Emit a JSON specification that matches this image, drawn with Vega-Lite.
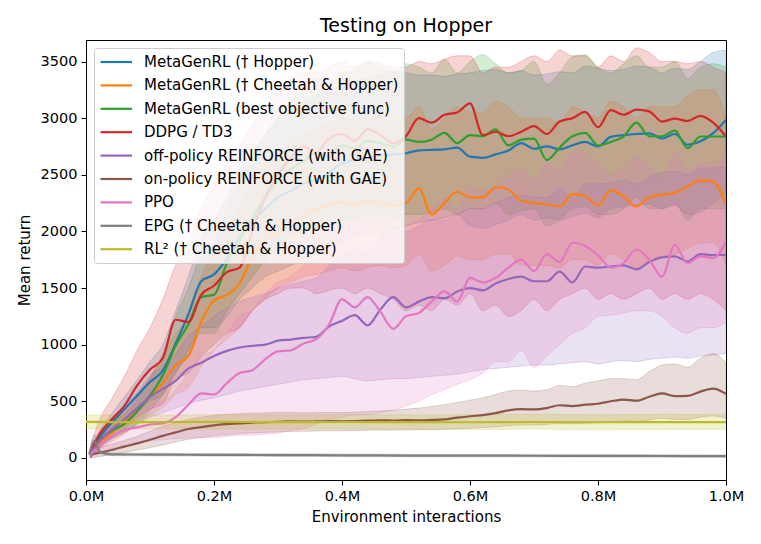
{
  "$schema": "https://vega.github.io/schema/vega-lite/v6.json",
  "width": 640,
  "height": 440,
  "autosize": "none",
  "padding": {"left": 86, "top": 40, "right": 35, "bottom": 64},
  "background": "white",
  "title": {
    "text": "Testing on Hopper",
    "font": "DejaVu Sans",
    "fontSize": 19,
    "fontWeight": "normal",
    "color": "black",
    "anchor": "middle",
    "offset": 4
  },
  "data": {
    "values": [
      {"s":"B","x":0.007,"m":40,"lo":0,"hi":80},
      {"s":"B","x":0.02,"m":170,"lo":110,"hi":230},
      {"s":"B","x":0.04,"m":310,"lo":230,"hi":390},
      {"s":"B","x":0.06,"m":430,"lo":330,"hi":540},
      {"s":"B","x":0.08,"m":550,"lo":420,"hi":690},
      {"s":"B","x":0.10,"m":670,"lo":500,"hi":850},
      {"s":"B","x":0.12,"m":770,"lo":560,"hi":1000},
      {"s":"B","x":0.14,"m":1010,"lo":740,"hi":1300},
      {"s":"B","x":0.16,"m":1270,"lo":950,"hi":1600},
      {"s":"B","x":0.18,"m":1560,"lo":1150,"hi":1950},
      {"s":"B","x":0.20,"m":1620,"lo":1150,"hi":2100},
      {"s":"B","x":0.22,"m":1760,"lo":1250,"hi":2300},
      {"s":"B","x":0.24,"m":1950,"lo":1400,"hi":2550},
      {"s":"B","x":0.26,"m":2100,"lo":1500,"hi":2700},
      {"s":"B","x":0.28,"m":2200,"lo":1600,"hi":2850},
      {"s":"B","x":0.30,"m":2300,"lo":1650,"hi":3000},
      {"s":"B","x":0.32,"m":2360,"lo":1700,"hi":3100},
      {"s":"B","x":0.34,"m":2420,"lo":1750,"hi":3150},
      {"s":"B","x":0.36,"m":2460,"lo":1800,"hi":3200},
      {"s":"B","x":0.38,"m":2520,"lo":1850,"hi":3250},
      {"s":"B","x":0.40,"m":2600,"lo":1900,"hi":3300},
      {"s":"B","x":0.42,"m":2630,"lo":1950,"hi":3330},
      {"s":"B","x":0.44,"m":2650,"lo":1980,"hi":3350},
      {"s":"B","x":0.46,"m":2670,"lo":2000,"hi":3380},
      {"s":"B","x":0.48,"m":2680,"lo":2020,"hi":3420},
      {"s":"B","x":0.50,"m":2690,"lo":2050,"hi":3400},
      {"s":"B","x":0.52,"m":2715,"lo":2080,"hi":3380},
      {"s":"B","x":0.54,"m":2720,"lo":2100,"hi":3380},
      {"s":"B","x":0.56,"m":2725,"lo":2120,"hi":3370},
      {"s":"B","x":0.58,"m":2740,"lo":2150,"hi":3390},
      {"s":"B","x":0.60,"m":2660,"lo":2050,"hi":3400},
      {"s":"B","x":0.62,"m":2650,"lo":2030,"hi":3420},
      {"s":"B","x":0.64,"m":2680,"lo":2060,"hi":3430},
      {"s":"B","x":0.66,"m":2715,"lo":2100,"hi":3400},
      {"s":"B","x":0.68,"m":2780,"lo":2150,"hi":3420},
      {"s":"B","x":0.70,"m":2730,"lo":2100,"hi":3380},
      {"s":"B","x":0.72,"m":2750,"lo":2120,"hi":3390},
      {"s":"B","x":0.74,"m":2725,"lo":2100,"hi":3410},
      {"s":"B","x":0.76,"m":2760,"lo":2130,"hi":3400},
      {"s":"B","x":0.78,"m":2790,"lo":2160,"hi":3460},
      {"s":"B","x":0.80,"m":2750,"lo":2120,"hi":3440},
      {"s":"B","x":0.82,"m":2835,"lo":2200,"hi":3420},
      {"s":"B","x":0.84,"m":2850,"lo":2220,"hi":3430},
      {"s":"B","x":0.86,"m":2860,"lo":2230,"hi":3460},
      {"s":"B","x":0.88,"m":2865,"lo":2240,"hi":3450},
      {"s":"B","x":0.90,"m":2820,"lo":2200,"hi":3400},
      {"s":"B","x":0.92,"m":2860,"lo":2230,"hi":3440},
      {"s":"B","x":0.94,"m":2765,"lo":2150,"hi":3430},
      {"s":"B","x":0.96,"m":2795,"lo":2170,"hi":3500},
      {"s":"B","x":0.98,"m":2868,"lo":2250,"hi":3580},
      {"s":"B","x":1.00,"m":2985,"lo":2350,"hi":3600},

      {"s":"O","x":0.007,"m":40,"lo":0,"hi":90},
      {"s":"O","x":0.02,"m":125,"lo":70,"hi":190},
      {"s":"O","x":0.04,"m":220,"lo":140,"hi":300},
      {"s":"O","x":0.06,"m":310,"lo":210,"hi":420},
      {"s":"O","x":0.08,"m":420,"lo":300,"hi":560},
      {"s":"O","x":0.10,"m":540,"lo":380,"hi":720},
      {"s":"O","x":0.12,"m":660,"lo":450,"hi":900},
      {"s":"O","x":0.14,"m":820,"lo":560,"hi":1100},
      {"s":"O","x":0.16,"m":900,"lo":620,"hi":1250},
      {"s":"O","x":0.18,"m":1200,"lo":800,"hi":1600},
      {"s":"O","x":0.20,"m":1390,"lo":950,"hi":1850},
      {"s":"O","x":0.22,"m":1440,"lo":1050,"hi":2000},
      {"s":"O","x":0.24,"m":1540,"lo":1150,"hi":2200},
      {"s":"O","x":0.26,"m":1780,"lo":1300,"hi":2450},
      {"s":"O","x":0.28,"m":1920,"lo":1400,"hi":2600},
      {"s":"O","x":0.30,"m":2000,"lo":1500,"hi":2700},
      {"s":"O","x":0.32,"m":2080,"lo":1550,"hi":2800},
      {"s":"O","x":0.34,"m":2140,"lo":1600,"hi":2850},
      {"s":"O","x":0.36,"m":2200,"lo":1620,"hi":2900},
      {"s":"O","x":0.38,"m":2230,"lo":1650,"hi":2950},
      {"s":"O","x":0.40,"m":2260,"lo":1680,"hi":3000},
      {"s":"O","x":0.42,"m":2230,"lo":1650,"hi":2980},
      {"s":"O","x":0.44,"m":2270,"lo":1680,"hi":3050},
      {"s":"O","x":0.46,"m":2250,"lo":1700,"hi":3000},
      {"s":"O","x":0.48,"m":2230,"lo":1680,"hi":2980},
      {"s":"O","x":0.50,"m":2250,"lo":1700,"hi":3000},
      {"s":"O","x":0.52,"m":2380,"lo":1800,"hi":3100},
      {"s":"O","x":0.54,"m":2150,"lo":1650,"hi":2900},
      {"s":"O","x":0.56,"m":2250,"lo":1700,"hi":3000},
      {"s":"O","x":0.58,"m":2350,"lo":1780,"hi":3100},
      {"s":"O","x":0.60,"m":2300,"lo":1750,"hi":3050},
      {"s":"O","x":0.62,"m":2300,"lo":1750,"hi":3050},
      {"s":"O","x":0.64,"m":2390,"lo":1800,"hi":3150},
      {"s":"O","x":0.66,"m":2370,"lo":1800,"hi":3100},
      {"s":"O","x":0.68,"m":2270,"lo":1700,"hi":3000},
      {"s":"O","x":0.70,"m":2250,"lo":1700,"hi":3000},
      {"s":"O","x":0.72,"m":2240,"lo":1700,"hi":3000},
      {"s":"O","x":0.74,"m":2220,"lo":1680,"hi":2950},
      {"s":"O","x":0.76,"m":2330,"lo":1750,"hi":3100},
      {"s":"O","x":0.78,"m":2310,"lo":1750,"hi":3050},
      {"s":"O","x":0.80,"m":2230,"lo":1700,"hi":3000},
      {"s":"O","x":0.82,"m":2365,"lo":1800,"hi":3150},
      {"s":"O","x":0.84,"m":2310,"lo":1750,"hi":3100},
      {"s":"O","x":0.86,"m":2220,"lo":1680,"hi":3000},
      {"s":"O","x":0.88,"m":2300,"lo":1750,"hi":3100},
      {"s":"O","x":0.90,"m":2325,"lo":1780,"hi":3100},
      {"s":"O","x":0.92,"m":2340,"lo":1800,"hi":3100},
      {"s":"O","x":0.94,"m":2400,"lo":1850,"hi":3200},
      {"s":"O","x":0.96,"m":2450,"lo":1900,"hi":3250},
      {"s":"O","x":0.98,"m":2440,"lo":1900,"hi":3250},
      {"s":"O","x":1.00,"m":2235,"lo":1700,"hi":3000},

      {"s":"G","x":0.007,"m":40,"lo":0,"hi":90},
      {"s":"G","x":0.02,"m":150,"lo":100,"hi":200},
      {"s":"G","x":0.04,"m":240,"lo":170,"hi":320},
      {"s":"G","x":0.06,"m":300,"lo":220,"hi":390},
      {"s":"G","x":0.08,"m":410,"lo":300,"hi":520},
      {"s":"G","x":0.10,"m":550,"lo":420,"hi":700},
      {"s":"G","x":0.12,"m":730,"lo":560,"hi":920},
      {"s":"G","x":0.14,"m":990,"lo":760,"hi":1250},
      {"s":"G","x":0.16,"m":1180,"lo":900,"hi":1500},
      {"s":"G","x":0.18,"m":1420,"lo":1100,"hi":1800},
      {"s":"G","x":0.20,"m":1440,"lo":1100,"hi":1900},
      {"s":"G","x":0.22,"m":1720,"lo":1300,"hi":2200},
      {"s":"G","x":0.24,"m":1920,"lo":1450,"hi":2450},
      {"s":"G","x":0.26,"m":2120,"lo":1600,"hi":2650},
      {"s":"G","x":0.28,"m":2300,"lo":1750,"hi":2850},
      {"s":"G","x":0.30,"m":2450,"lo":1850,"hi":3000},
      {"s":"G","x":0.32,"m":2550,"lo":1950,"hi":3150},
      {"s":"G","x":0.34,"m":2620,"lo":2000,"hi":3250},
      {"s":"G","x":0.36,"m":2700,"lo":2050,"hi":3350},
      {"s":"G","x":0.38,"m":2660,"lo":2050,"hi":3300},
      {"s":"G","x":0.40,"m":2760,"lo":2100,"hi":3400},
      {"s":"G","x":0.42,"m":2730,"lo":2100,"hi":3420},
      {"s":"G","x":0.44,"m":2800,"lo":2150,"hi":3500},
      {"s":"G","x":0.46,"m":2780,"lo":2150,"hi":3450},
      {"s":"G","x":0.48,"m":2750,"lo":2120,"hi":3400},
      {"s":"G","x":0.50,"m":2810,"lo":2150,"hi":3480},
      {"s":"G","x":0.52,"m":2790,"lo":2150,"hi":3450},
      {"s":"G","x":0.54,"m":2810,"lo":2170,"hi":3400},
      {"s":"G","x":0.56,"m":2870,"lo":2200,"hi":3520},
      {"s":"G","x":0.58,"m":2780,"lo":2150,"hi":3400},
      {"s":"G","x":0.60,"m":2850,"lo":2200,"hi":3500},
      {"s":"G","x":0.62,"m":2840,"lo":2200,"hi":3560},
      {"s":"G","x":0.64,"m":2900,"lo":2250,"hi":3480},
      {"s":"G","x":0.66,"m":2760,"lo":2150,"hi":3400},
      {"s":"G","x":0.68,"m":2810,"lo":2180,"hi":3420},
      {"s":"G","x":0.70,"m":2820,"lo":2200,"hi":3500},
      {"s":"G","x":0.72,"m":2630,"lo":2050,"hi":3300},
      {"s":"G","x":0.74,"m":2740,"lo":2100,"hi":3400},
      {"s":"G","x":0.76,"m":2840,"lo":2200,"hi":3540},
      {"s":"G","x":0.78,"m":2870,"lo":2220,"hi":3560},
      {"s":"G","x":0.80,"m":2760,"lo":2150,"hi":3450},
      {"s":"G","x":0.82,"m":2790,"lo":2150,"hi":3400},
      {"s":"G","x":0.84,"m":2840,"lo":2200,"hi":3480},
      {"s":"G","x":0.86,"m":2960,"lo":2300,"hi":3550},
      {"s":"G","x":0.88,"m":2840,"lo":2200,"hi":3450},
      {"s":"G","x":0.90,"m":2840,"lo":2200,"hi":3450},
      {"s":"G","x":0.92,"m":2890,"lo":2250,"hi":3500},
      {"s":"G","x":0.94,"m":2735,"lo":2100,"hi":3350},
      {"s":"G","x":0.96,"m":2838,"lo":2200,"hi":3450},
      {"s":"G","x":0.98,"m":2838,"lo":2200,"hi":3480},
      {"s":"G","x":1.00,"m":2838,"lo":2200,"hi":3450},

      {"s":"R","x":0.007,"m":40,"lo":0,"hi":90},
      {"s":"R","x":0.02,"m":200,"lo":80,"hi":320},
      {"s":"R","x":0.04,"m":340,"lo":180,"hi":520},
      {"s":"R","x":0.06,"m":460,"lo":260,"hi":720},
      {"s":"R","x":0.08,"m":640,"lo":360,"hi":950},
      {"s":"R","x":0.10,"m":780,"lo":430,"hi":1150},
      {"s":"R","x":0.12,"m":880,"lo":480,"hi":1400},
      {"s":"R","x":0.14,"m":1220,"lo":700,"hi":1700},
      {"s":"R","x":0.16,"m":1200,"lo":750,"hi":1900},
      {"s":"R","x":0.18,"m":1440,"lo":900,"hi":2200},
      {"s":"R","x":0.20,"m":1520,"lo":1000,"hi":2400},
      {"s":"R","x":0.22,"m":1640,"lo":1100,"hi":2600},
      {"s":"R","x":0.24,"m":1680,"lo":1150,"hi":2750},
      {"s":"R","x":0.26,"m":2000,"lo":1300,"hi":2950},
      {"s":"R","x":0.28,"m":2300,"lo":1400,"hi":3100},
      {"s":"R","x":0.30,"m":2500,"lo":1450,"hi":3250},
      {"s":"R","x":0.32,"m":2650,"lo":1500,"hi":3350},
      {"s":"R","x":0.34,"m":2750,"lo":1500,"hi":3400},
      {"s":"R","x":0.36,"m":2700,"lo":1450,"hi":3400},
      {"s":"R","x":0.38,"m":2820,"lo":1480,"hi":3450},
      {"s":"R","x":0.40,"m":2860,"lo":1500,"hi":3500},
      {"s":"R","x":0.42,"m":2800,"lo":1450,"hi":3450},
      {"s":"R","x":0.44,"m":2900,"lo":1500,"hi":3500},
      {"s":"R","x":0.46,"m":2850,"lo":1450,"hi":3480},
      {"s":"R","x":0.48,"m":2780,"lo":1400,"hi":3450},
      {"s":"R","x":0.50,"m":2840,"lo":1300,"hi":3450},
      {"s":"R","x":0.52,"m":3000,"lo":1350,"hi":3500},
      {"s":"R","x":0.54,"m":2960,"lo":1300,"hi":3480},
      {"s":"R","x":0.56,"m":3030,"lo":1400,"hi":3520},
      {"s":"R","x":0.58,"m":3050,"lo":1350,"hi":3550},
      {"s":"R","x":0.60,"m":3130,"lo":1450,"hi":3550},
      {"s":"R","x":0.62,"m":2850,"lo":1300,"hi":3400},
      {"s":"R","x":0.64,"m":2880,"lo":1350,"hi":3450},
      {"s":"R","x":0.66,"m":2840,"lo":1250,"hi":3450},
      {"s":"R","x":0.68,"m":2880,"lo":1300,"hi":3500},
      {"s":"R","x":0.70,"m":2930,"lo":1400,"hi":3550},
      {"s":"R","x":0.72,"m":2860,"lo":1300,"hi":3500},
      {"s":"R","x":0.74,"m":2970,"lo":1400,"hi":3600},
      {"s":"R","x":0.76,"m":3000,"lo":1450,"hi":3550},
      {"s":"R","x":0.78,"m":3055,"lo":1500,"hi":3550},
      {"s":"R","x":0.80,"m":2920,"lo":1400,"hi":3450},
      {"s":"R","x":0.82,"m":3070,"lo":1450,"hi":3550},
      {"s":"R","x":0.84,"m":3030,"lo":1400,"hi":3500},
      {"s":"R","x":0.86,"m":3075,"lo":1450,"hi":3620},
      {"s":"R","x":0.88,"m":3060,"lo":1500,"hi":3580},
      {"s":"R","x":0.90,"m":2970,"lo":1400,"hi":3500},
      {"s":"R","x":0.92,"m":2995,"lo":1450,"hi":3500},
      {"s":"R","x":0.94,"m":2975,"lo":1400,"hi":3480},
      {"s":"R","x":0.96,"m":3020,"lo":1450,"hi":3500},
      {"s":"R","x":0.98,"m":2960,"lo":1400,"hi":3450},
      {"s":"R","x":1.00,"m":2838,"lo":1300,"hi":3400},

      {"s":"P","x":0.007,"m":40,"lo":0,"hi":80},
      {"s":"P","x":0.02,"m":140,"lo":80,"hi":210},
      {"s":"P","x":0.04,"m":250,"lo":160,"hi":350},
      {"s":"P","x":0.06,"m":340,"lo":230,"hi":460},
      {"s":"P","x":0.08,"m":440,"lo":300,"hi":580},
      {"s":"P","x":0.10,"m":540,"lo":360,"hi":720},
      {"s":"P","x":0.12,"m":610,"lo":400,"hi":820},
      {"s":"P","x":0.14,"m":680,"lo":440,"hi":920},
      {"s":"P","x":0.16,"m":790,"lo":480,"hi":1080},
      {"s":"P","x":0.18,"m":840,"lo":510,"hi":1160},
      {"s":"P","x":0.20,"m":900,"lo":530,"hi":1250},
      {"s":"P","x":0.22,"m":945,"lo":560,"hi":1320},
      {"s":"P","x":0.24,"m":975,"lo":590,"hi":1380},
      {"s":"P","x":0.26,"m":990,"lo":610,"hi":1420},
      {"s":"P","x":0.28,"m":1000,"lo":630,"hi":1450},
      {"s":"P","x":0.30,"m":1035,"lo":650,"hi":1500},
      {"s":"P","x":0.32,"m":1045,"lo":670,"hi":1530},
      {"s":"P","x":0.34,"m":1060,"lo":690,"hi":1560},
      {"s":"P","x":0.36,"m":1070,"lo":700,"hi":1590},
      {"s":"P","x":0.38,"m":1160,"lo":710,"hi":1700},
      {"s":"P","x":0.40,"m":1210,"lo":720,"hi":1780},
      {"s":"P","x":0.42,"m":1260,"lo":700,"hi":1850},
      {"s":"P","x":0.44,"m":1170,"lo":680,"hi":1800},
      {"s":"P","x":0.46,"m":1310,"lo":690,"hi":1950},
      {"s":"P","x":0.48,"m":1420,"lo":700,"hi":2050},
      {"s":"P","x":0.50,"m":1330,"lo":700,"hi":2000},
      {"s":"P","x":0.52,"m":1380,"lo":710,"hi":2050},
      {"s":"P","x":0.54,"m":1420,"lo":720,"hi":2100},
      {"s":"P","x":0.56,"m":1410,"lo":730,"hi":2100},
      {"s":"P","x":0.58,"m":1470,"lo":740,"hi":2150},
      {"s":"P","x":0.60,"m":1500,"lo":760,"hi":2200},
      {"s":"P","x":0.62,"m":1480,"lo":780,"hi":2200},
      {"s":"P","x":0.64,"m":1540,"lo":790,"hi":2250},
      {"s":"P","x":0.66,"m":1580,"lo":800,"hi":2300},
      {"s":"P","x":0.68,"m":1600,"lo":810,"hi":2320},
      {"s":"P","x":0.70,"m":1560,"lo":820,"hi":2300},
      {"s":"P","x":0.72,"m":1560,"lo":820,"hi":2300},
      {"s":"P","x":0.74,"m":1645,"lo":830,"hi":2380},
      {"s":"P","x":0.76,"m":1550,"lo":840,"hi":2300},
      {"s":"P","x":0.78,"m":1690,"lo":850,"hi":2420},
      {"s":"P","x":0.80,"m":1680,"lo":830,"hi":2420},
      {"s":"P","x":0.82,"m":1690,"lo":850,"hi":2430},
      {"s":"P","x":0.84,"m":1700,"lo":860,"hi":2450},
      {"s":"P","x":0.86,"m":1665,"lo":850,"hi":2420},
      {"s":"P","x":0.88,"m":1730,"lo":870,"hi":2480},
      {"s":"P","x":0.90,"m":1770,"lo":880,"hi":2520},
      {"s":"P","x":0.92,"m":1780,"lo":890,"hi":2530},
      {"s":"P","x":0.94,"m":1735,"lo":880,"hi":2500},
      {"s":"P","x":0.96,"m":1800,"lo":900,"hi":2560},
      {"s":"P","x":0.98,"m":1790,"lo":910,"hi":2560},
      {"s":"P","x":1.00,"m":1794,"lo":920,"hi":2570},

      {"s":"N","x":0.007,"m":30,"lo":0,"hi":70},
      {"s":"N","x":0.02,"m":45,"lo":10,"hi":90},
      {"s":"N","x":0.04,"m":70,"lo":30,"hi":120},
      {"s":"N","x":0.06,"m":100,"lo":50,"hi":155},
      {"s":"N","x":0.08,"m":128,"lo":70,"hi":190},
      {"s":"N","x":0.10,"m":160,"lo":90,"hi":235},
      {"s":"N","x":0.12,"m":195,"lo":115,"hi":280},
      {"s":"N","x":0.14,"m":225,"lo":140,"hi":310},
      {"s":"N","x":0.16,"m":255,"lo":165,"hi":340},
      {"s":"N","x":0.18,"m":272,"lo":180,"hi":360},
      {"s":"N","x":0.20,"m":288,"lo":195,"hi":375},
      {"s":"N","x":0.22,"m":298,"lo":205,"hi":385},
      {"s":"N","x":0.24,"m":305,"lo":215,"hi":390},
      {"s":"N","x":0.26,"m":312,"lo":220,"hi":395},
      {"s":"N","x":0.28,"m":316,"lo":225,"hi":398},
      {"s":"N","x":0.30,"m":318,"lo":230,"hi":400},
      {"s":"N","x":0.32,"m":322,"lo":235,"hi":400},
      {"s":"N","x":0.34,"m":320,"lo":235,"hi":398},
      {"s":"N","x":0.36,"m":322,"lo":238,"hi":400},
      {"s":"N","x":0.38,"m":325,"lo":240,"hi":402},
      {"s":"N","x":0.40,"m":323,"lo":240,"hi":400},
      {"s":"N","x":0.42,"m":326,"lo":242,"hi":405},
      {"s":"N","x":0.44,"m":330,"lo":245,"hi":410},
      {"s":"N","x":0.46,"m":332,"lo":245,"hi":415},
      {"s":"N","x":0.48,"m":330,"lo":245,"hi":420},
      {"s":"N","x":0.50,"m":333,"lo":248,"hi":430},
      {"s":"N","x":0.52,"m":332,"lo":248,"hi":440},
      {"s":"N","x":0.54,"m":335,"lo":250,"hi":455},
      {"s":"N","x":0.56,"m":340,"lo":252,"hi":470},
      {"s":"N","x":0.58,"m":355,"lo":258,"hi":490},
      {"s":"N","x":0.60,"m":368,"lo":262,"hi":510},
      {"s":"N","x":0.62,"m":378,"lo":268,"hi":530},
      {"s":"N","x":0.64,"m":395,"lo":275,"hi":560},
      {"s":"N","x":0.66,"m":420,"lo":285,"hi":590},
      {"s":"N","x":0.68,"m":430,"lo":290,"hi":600},
      {"s":"N","x":0.70,"m":428,"lo":290,"hi":590},
      {"s":"N","x":0.72,"m":440,"lo":295,"hi":600},
      {"s":"N","x":0.74,"m":465,"lo":305,"hi":640},
      {"s":"N","x":0.76,"m":458,"lo":300,"hi":630},
      {"s":"N","x":0.78,"m":470,"lo":305,"hi":660},
      {"s":"N","x":0.80,"m":478,"lo":310,"hi":680},
      {"s":"N","x":0.82,"m":500,"lo":320,"hi":700},
      {"s":"N","x":0.84,"m":515,"lo":330,"hi":700},
      {"s":"N","x":0.86,"m":505,"lo":320,"hi":690},
      {"s":"N","x":0.88,"m":540,"lo":335,"hi":760},
      {"s":"N","x":0.90,"m":570,"lo":350,"hi":820},
      {"s":"N","x":0.92,"m":545,"lo":340,"hi":830},
      {"s":"N","x":0.94,"m":548,"lo":340,"hi":800},
      {"s":"N","x":0.96,"m":585,"lo":360,"hi":880},
      {"s":"N","x":0.98,"m":612,"lo":370,"hi":920},
      {"s":"N","x":1.00,"m":565,"lo":350,"hi":840},

      {"s":"K","x":0.007,"m":30,"lo":0,"hi":60},
      {"s":"K","x":0.02,"m":100,"lo":30,"hi":170},
      {"s":"K","x":0.04,"m":190,"lo":80,"hi":300},
      {"s":"K","x":0.06,"m":245,"lo":110,"hi":380},
      {"s":"K","x":0.08,"m":270,"lo":130,"hi":430},
      {"s":"K","x":0.10,"m":295,"lo":150,"hi":470},
      {"s":"K","x":0.12,"m":305,"lo":160,"hi":500},
      {"s":"K","x":0.14,"m":360,"lo":170,"hi":600},
      {"s":"K","x":0.16,"m":470,"lo":175,"hi":750},
      {"s":"K","x":0.18,"m":570,"lo":180,"hi":900},
      {"s":"K","x":0.20,"m":560,"lo":180,"hi":950},
      {"s":"K","x":0.22,"m":660,"lo":190,"hi":1100},
      {"s":"K","x":0.24,"m":750,"lo":200,"hi":1250},
      {"s":"K","x":0.26,"m":775,"lo":200,"hi":1300},
      {"s":"K","x":0.28,"m":870,"lo":210,"hi":1450},
      {"s":"K","x":0.30,"m":940,"lo":220,"hi":1550},
      {"s":"K","x":0.32,"m":950,"lo":240,"hi":1600},
      {"s":"K","x":0.34,"m":1010,"lo":260,"hi":1700},
      {"s":"K","x":0.36,"m":1050,"lo":300,"hi":1750},
      {"s":"K","x":0.38,"m":1180,"lo":340,"hi":1900},
      {"s":"K","x":0.40,"m":1400,"lo":360,"hi":2100},
      {"s":"K","x":0.42,"m":1330,"lo":380,"hi":2050},
      {"s":"K","x":0.44,"m":1420,"lo":380,"hi":2150},
      {"s":"K","x":0.46,"m":1290,"lo":400,"hi":2050},
      {"s":"K","x":0.48,"m":1140,"lo":420,"hi":1950},
      {"s":"K","x":0.50,"m":1250,"lo":460,"hi":2050},
      {"s":"K","x":0.52,"m":1280,"lo":500,"hi":2100},
      {"s":"K","x":0.54,"m":1380,"lo":560,"hi":2200},
      {"s":"K","x":0.56,"m":1470,"lo":600,"hi":2300},
      {"s":"K","x":0.58,"m":1380,"lo":650,"hi":2200},
      {"s":"K","x":0.60,"m":1590,"lo":690,"hi":2400},
      {"s":"K","x":0.62,"m":1550,"lo":750,"hi":2350},
      {"s":"K","x":0.64,"m":1590,"lo":850,"hi":2400},
      {"s":"K","x":0.66,"m":1680,"lo":850,"hi":2500},
      {"s":"K","x":0.68,"m":1750,"lo":950,"hi":2550},
      {"s":"K","x":0.70,"m":1650,"lo":800,"hi":2450},
      {"s":"K","x":0.72,"m":1800,"lo":900,"hi":2600},
      {"s":"K","x":0.74,"m":1730,"lo":1000,"hi":2550},
      {"s":"K","x":0.76,"m":1900,"lo":1100,"hi":2700},
      {"s":"K","x":0.78,"m":1870,"lo":1150,"hi":2680},
      {"s":"K","x":0.80,"m":1790,"lo":1250,"hi":2600},
      {"s":"K","x":0.82,"m":1680,"lo":1260,"hi":2500},
      {"s":"K","x":0.84,"m":1720,"lo":1280,"hi":2550},
      {"s":"K","x":0.86,"m":1840,"lo":1300,"hi":2650},
      {"s":"K","x":0.88,"m":1750,"lo":1300,"hi":2580},
      {"s":"K","x":0.90,"m":1600,"lo":1250,"hi":2450},
      {"s":"K","x":0.92,"m":1880,"lo":1150,"hi":2700},
      {"s":"K","x":0.94,"m":1720,"lo":1100,"hi":2550},
      {"s":"K","x":0.96,"m":1780,"lo":1150,"hi":2600},
      {"s":"K","x":0.98,"m":1765,"lo":1150,"hi":2600},
      {"s":"K","x":1.00,"m":1910,"lo":1200,"hi":2700},

      {"s":"E","x":0.005,"m":30,"lo":15,"hi":45},
      {"s":"E","x":0.013,"m":150,"lo":90,"hi":210},
      {"s":"E","x":0.022,"m":50,"lo":35,"hi":65},
      {"s":"E","x":0.04,"m":32,"lo":20,"hi":44},
      {"s":"E","x":0.08,"m":30,"lo":18,"hi":42},
      {"s":"E","x":0.12,"m":29,"lo":17,"hi":41},
      {"s":"E","x":0.16,"m":28,"lo":16,"hi":40},
      {"s":"E","x":0.20,"m":27,"lo":15,"hi":39},
      {"s":"E","x":0.30,"m":25,"lo":13,"hi":37},
      {"s":"E","x":0.40,"m":23,"lo":11,"hi":35},
      {"s":"E","x":0.50,"m":21,"lo":9,"hi":33},
      {"s":"E","x":0.60,"m":20,"lo":8,"hi":32},
      {"s":"E","x":0.70,"m":19,"lo":7,"hi":31},
      {"s":"E","x":0.80,"m":18,"lo":6,"hi":30},
      {"s":"E","x":0.90,"m":17,"lo":5,"hi":29},
      {"s":"E","x":1.00,"m":16,"lo":4,"hi":28},

      {"s":"L","x":0.0,"m":318,"lo":255,"hi":380},
      {"s":"L","x":0.1,"m":316,"lo":258,"hi":378},
      {"s":"L","x":0.2,"m":318,"lo":256,"hi":382},
      {"s":"L","x":0.3,"m":316,"lo":255,"hi":380},
      {"s":"L","x":0.4,"m":317,"lo":258,"hi":383},
      {"s":"L","x":0.5,"m":316,"lo":255,"hi":380},
      {"s":"L","x":0.6,"m":315,"lo":252,"hi":382},
      {"s":"L","x":0.7,"m":317,"lo":255,"hi":385},
      {"s":"L","x":0.8,"m":315,"lo":250,"hi":382},
      {"s":"L","x":0.9,"m":316,"lo":252,"hi":384},
      {"s":"L","x":1.0,"m":316,"lo":252,"hi":383}
    ]
  },
  "transform": [
    {
      "lookup": "s",
      "from": {
        "data": {
          "values": [
            {"s": "B", "name": "MetaGenRL († Hopper)"},
            {"s": "O", "name": "MetaGenRL († Cheetah & Hopper)"},
            {"s": "G", "name": "MetaGenRL (best objective func)"},
            {"s": "R", "name": "DDPG / TD3"},
            {"s": "P", "name": "off-policy REINFORCE (with GAE)"},
            {"s": "N", "name": "on-policy REINFORCE (with GAE)"},
            {"s": "K", "name": "PPO"},
            {"s": "E", "name": "EPG († Cheetah & Hopper)"},
            {"s": "L", "name": "RL² († Cheetah & Hopper)"}
          ]
        },
        "key": "s",
        "fields": ["name"]
      }
    }
  ],
  "encoding": {
    "x": {
      "field": "x",
      "type": "quantitative",
      "title": "Environment interactions",
      "scale": {"domain": [0, 1], "nice": false, "zero": false},
      "axis": {
        "values": [0, 0.2, 0.4, 0.6, 0.8, 1.0],
        "labelExpr": "format(datum.value, '.1f') + 'M'",
        "labelFlush": false,
        "titlePadding": 7
      }
    }
  },
  "layer": [
    {
      "mark": {
        "type": "area",
        "fillOpacity": 0.2,
        "strokeOpacity": 0.3,
        "strokeWidth": 0.8,
        "interpolate": "monotone",
        "clip": true
      },
      "encoding": {
        "y": {
          "field": "lo",
          "type": "quantitative",
          "title": "Mean return",
          "scale": {"domain": [-195, 3690], "nice": false, "zero": false},
          "axis": {
            "values": [0, 500, 1000, 1500, 2000, 2500, 3000, 3500],
            "format": "d",
            "titlePadding": 8
          }
        },
        "y2": {"field": "hi"},
        "fill": {
          "field": "s",
          "type": "nominal",
          "scale": {
            "domain": ["B", "O", "G", "R", "P", "N", "K", "E", "L"],
            "range": ["#1f77b4", "#ff7f0e", "#2ca02c", "#d62728", "#9467bd", "#8c564b", "#e377c2", "#7f7f7f", "#bcbd22"]
          },
          "legend": null
        },
        "stroke": {
          "field": "s",
          "type": "nominal",
          "scale": {
            "domain": ["B", "O", "G", "R", "P", "N", "K", "E", "L"],
            "range": ["#1f77b4", "#ff7f0e", "#2ca02c", "#d62728", "#9467bd", "#8c564b", "#e377c2", "#7f7f7f", "#bcbd22"]
          },
          "legend": null
        }
      }
    },
    {
      "mark": {
        "type": "line",
        "strokeWidth": 2.2,
        "interpolate": "monotone",
        "clip": true
      },
      "encoding": {
        "y": {"field": "m", "type": "quantitative", "title": "Mean return"},
        "color": {
          "field": "name",
          "type": "nominal",
          "scale": {
            "domain": ["MetaGenRL († Hopper)", "MetaGenRL († Cheetah & Hopper)", "MetaGenRL (best objective func)", "DDPG / TD3", "off-policy REINFORCE (with GAE)", "on-policy REINFORCE (with GAE)", "PPO", "EPG († Cheetah & Hopper)", "RL² († Cheetah & Hopper)"],
            "range": ["#1f77b4", "#ff7f0e", "#2ca02c", "#d62728", "#9467bd", "#8c564b", "#e377c2", "#7f7f7f", "#bcbd22"]
          },
          "legend": {
            "title": null,
            "orient": "none",
            "legendX": 8,
            "legendY": 8,
            "symbolType": "M-1,0H3.2",
            "symbolSize": 225,
            "symbolStrokeWidth": 2.2,
            "labelOffset": 27,
            "rowPadding": 6.4,
            "padding": 5,
            "labelLimit": 0,
            "fillColor": "rgba(255,255,255,0.8)",
            "strokeColor": "#cccccc",
            "cornerRadius": 3
          }
        }
      }
    }
  ],
  "config": {
    "font": "DejaVu Sans",
    "view": {"stroke": "black", "strokeWidth": 1},
    "axis": {
      "labelFont": "DejaVu Sans",
      "titleFont": "DejaVu Sans",
      "labelFontSize": 14.5,
      "titleFontSize": 15,
      "titleFontWeight": "normal",
      "labelColor": "black",
      "titleColor": "black",
      "tickColor": "black",
      "domainColor": "black",
      "tickSize": 5,
      "labelPadding": 4,
      "grid": false
    },
    "legend": {
      "labelFont": "DejaVu Sans",
      "labelFontSize": 15,
      "labelColor": "black"
    }
  }
}
